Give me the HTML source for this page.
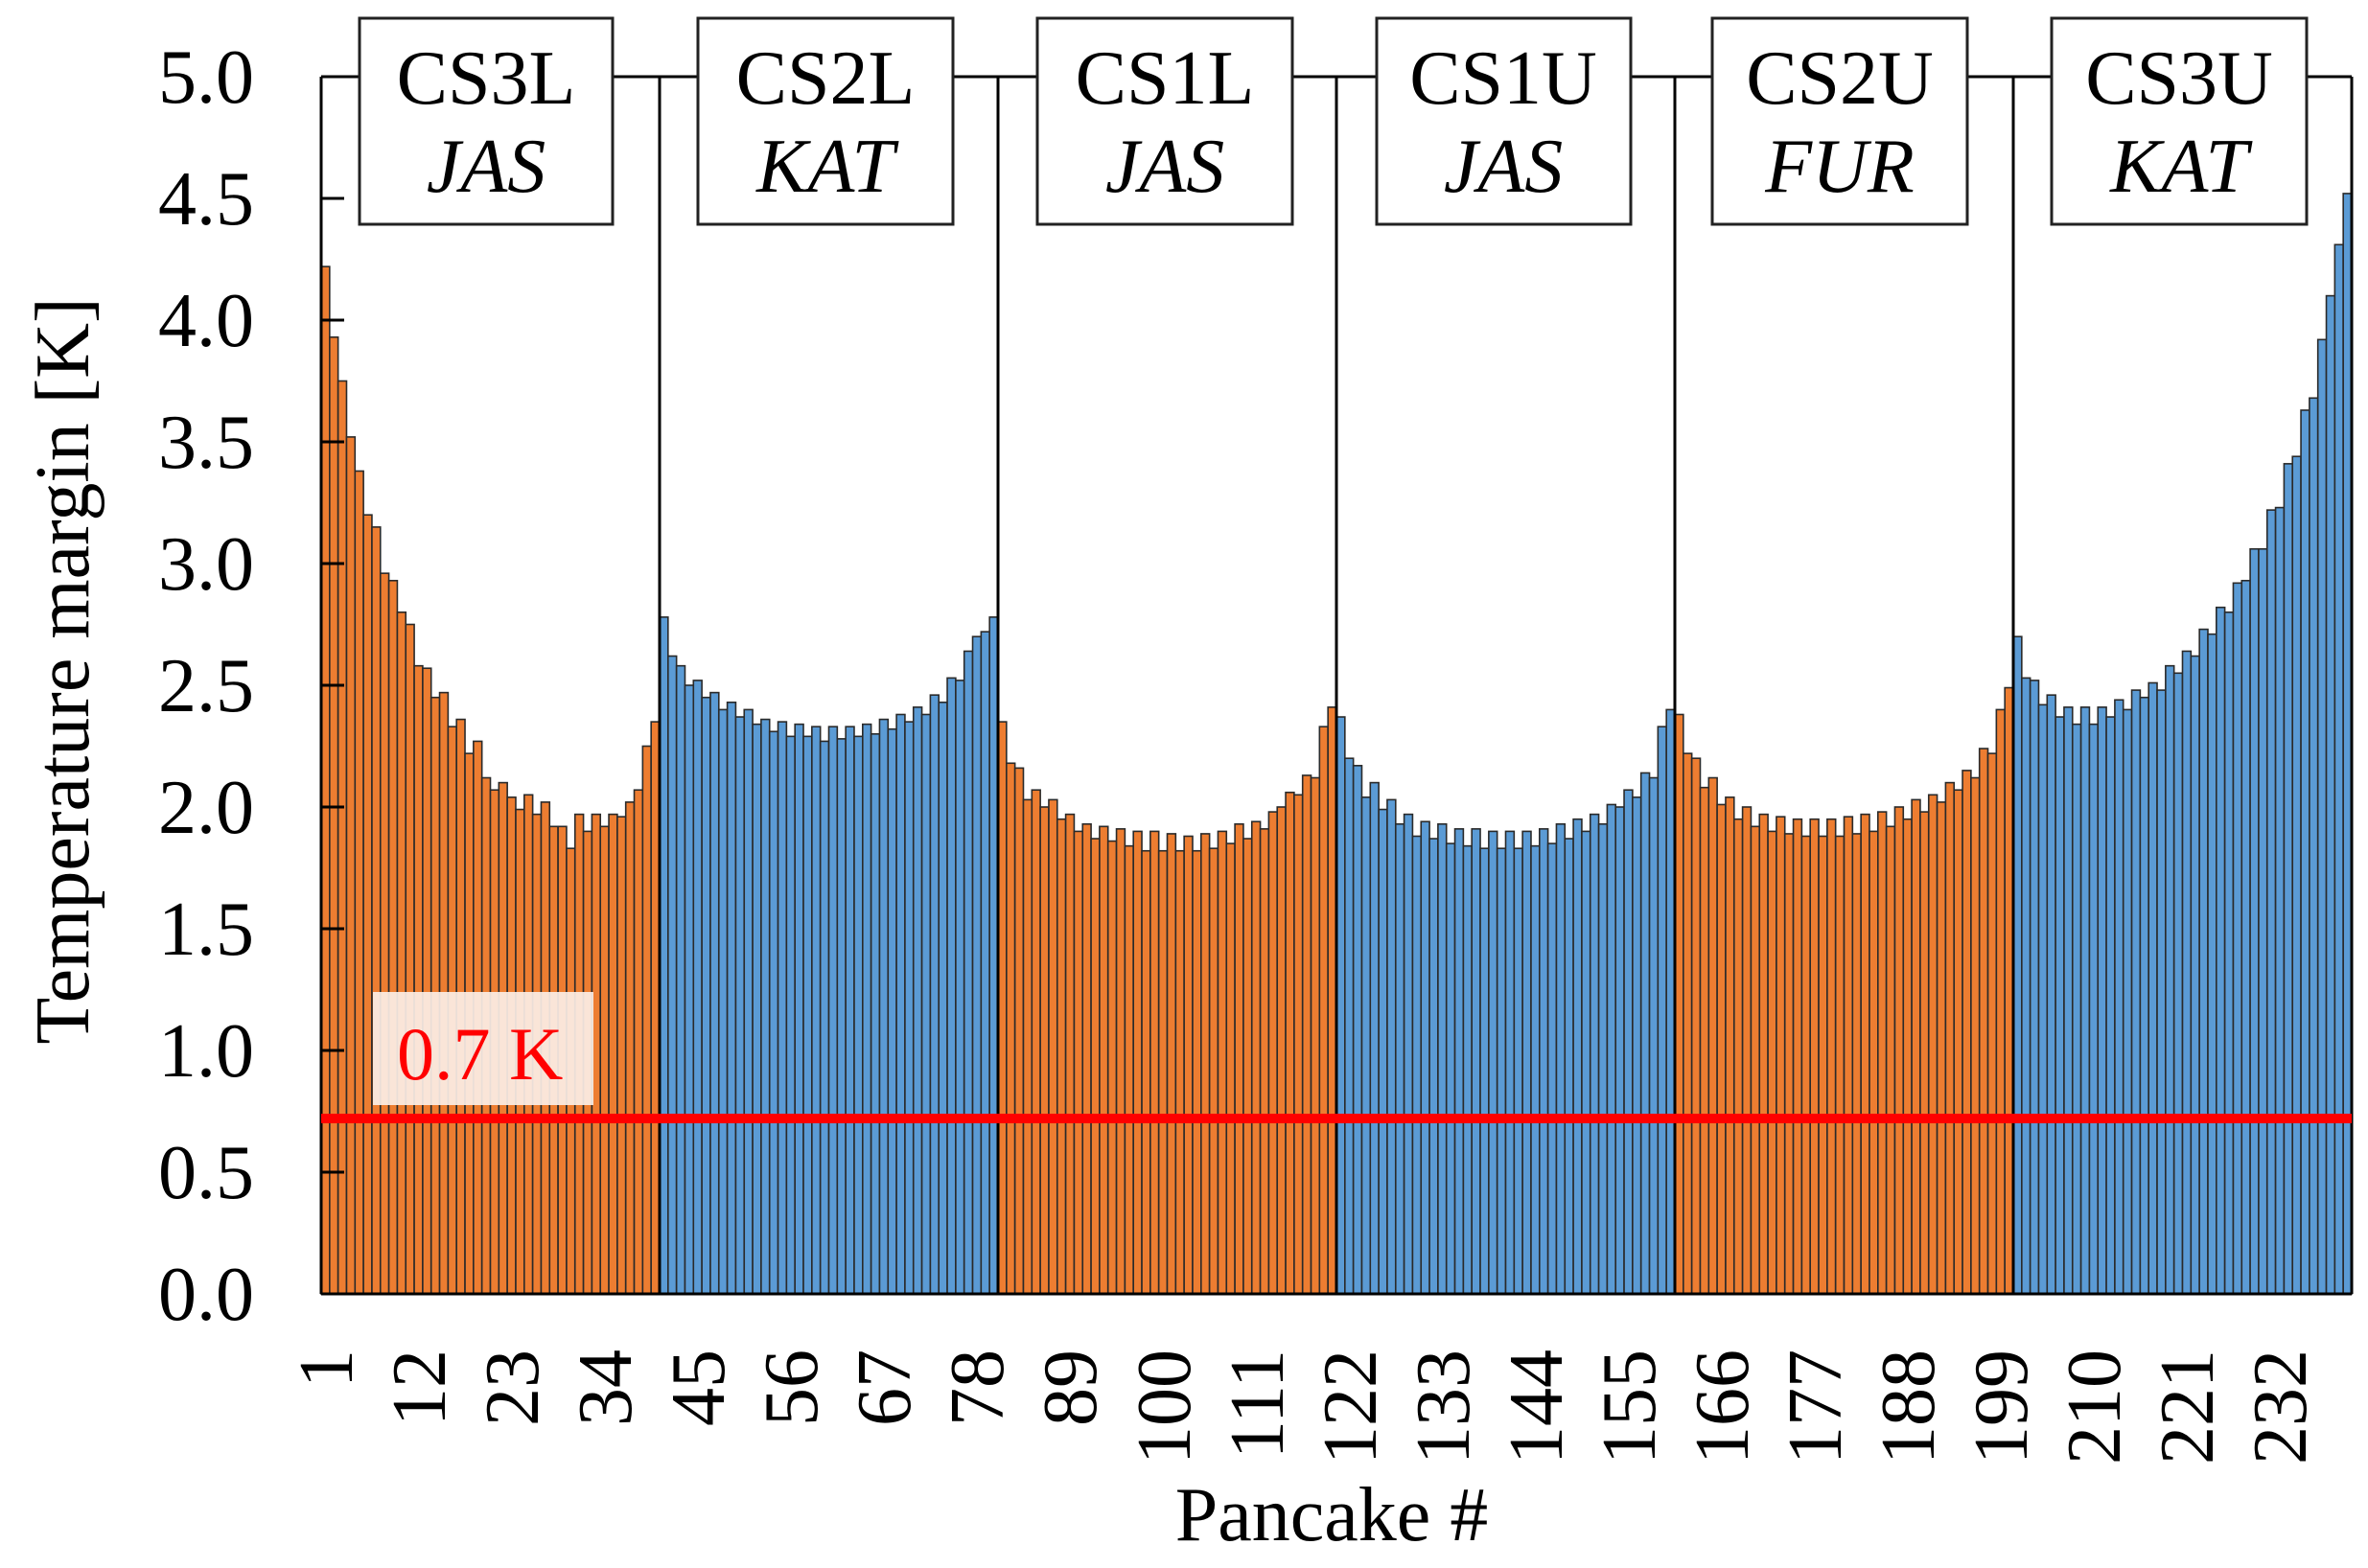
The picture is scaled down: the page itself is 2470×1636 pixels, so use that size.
<!DOCTYPE html>
<html><head><meta charset="utf-8"><style>
html,body{margin:0;padding:0;background:#fff;}
svg{display:block;}
text{font-family:"Liberation Serif",serif;fill:#000;}
</style></head><body>
<svg id="s" width="2470" height="1636" viewBox="0 0 2470 1636" xmlns="http://www.w3.org/2000/svg">
<g id="bars"></g>
<g id="frame" stroke="#000" stroke-width="3" fill="none"></g>
<!-- boxes -->
<g stroke="#222" stroke-width="3" fill="#fff">
<rect x="375" y="19" width="264" height="215"/>
<rect x="728" y="19" width="266" height="215"/>
<rect x="1082" y="19" width="266" height="215"/>
<rect x="1436" y="19" width="265" height="215"/>
<rect x="1786" y="19" width="266" height="215"/>
<rect x="2140" y="19" width="266" height="215"/>
</g>
<g font-size="80" text-anchor="middle">
<text x="507" y="108">CS3L</text><text x="507" y="200" font-style="italic">JAS</text>
<text x="861" y="108">CS2L</text><text x="861" y="200" font-style="italic">KAT</text>
<text x="1215" y="108">CS1L</text><text x="1215" y="200" font-style="italic">JAS</text>
<text x="1568" y="108">CS1U</text><text x="1568" y="200" font-style="italic">JAS</text>
<text x="1919" y="108">CS2U</text><text x="1919" y="200" font-style="italic">FUR</text>
<text x="2273" y="108">CS3U</text><text x="2273" y="200" font-style="italic">KAT</text>
</g>
<!-- red line + label -->
<rect x="335" y="1162" width="2118" height="10" fill="#ff0000"/>
<rect x="389" y="1035" width="230" height="118" fill="#fbeee6" fill-opacity="0.92"/>
<text x="414" y="1126" font-size="78" fill="#ff0000" style="fill:#ff0000">0.7 K</text>
<!-- y labels -->
<g font-size="80" text-anchor="end">
<text x="265" y="1377">0.0</text>
<text x="265" y="1250">0.5</text>
<text x="265" y="1123">1.0</text>
<text x="265" y="996">1.5</text>
<text x="265" y="869">2.0</text>
<text x="265" y="742">2.5</text>
<text x="265" y="615">3.0</text>
<text x="265" y="488">3.5</text>
<text x="265" y="361">4.0</text>
<text x="265" y="234">4.5</text>
<text x="265" y="107">5.0</text>
</g>
<g id="yt" stroke="#000" stroke-width="3"></g>
<text transform="translate(92,700) rotate(-90)" font-size="80" text-anchor="middle">Temperature margin [K]</text>
<text x="1389" y="1607" font-size="80" text-anchor="middle">Pancake #</text>
<g font-size="80" text-anchor="end">
<text transform="translate(367,1408) rotate(-90)">1</text>
<text transform="translate(464,1408) rotate(-90)">12</text>
<text transform="translate(561,1408) rotate(-90)">23</text>
<text transform="translate(658,1408) rotate(-90)">34</text>
<text transform="translate(755,1408) rotate(-90)">45</text>
<text transform="translate(852,1408) rotate(-90)">56</text>
<text transform="translate(949,1408) rotate(-90)">67</text>
<text transform="translate(1046,1408) rotate(-90)">78</text>
<text transform="translate(1143,1408) rotate(-90)">89</text>
<text transform="translate(1241,1408) rotate(-90)">100</text>
<text transform="translate(1338,1408) rotate(-90)">111</text>
<text transform="translate(1435,1408) rotate(-90)">122</text>
<text transform="translate(1532,1408) rotate(-90)">133</text>
<text transform="translate(1629,1408) rotate(-90)">144</text>
<text transform="translate(1726,1408) rotate(-90)">155</text>
<text transform="translate(1823,1408) rotate(-90)">166</text>
<text transform="translate(1920,1408) rotate(-90)">177</text>
<text transform="translate(2017,1408) rotate(-90)">188</text>
<text transform="translate(2114,1408) rotate(-90)">199</text>
<text transform="translate(2211,1408) rotate(-90)">210</text>
<text transform="translate(2308,1408) rotate(-90)">221</text>
<text transform="translate(2405,1408) rotate(-90)">232</text>
</g>
</svg>
<script>
var d=[4.22,3.93,3.75,3.52,3.38,3.2,3.15,2.96,2.93,2.8,2.75,2.58,2.57,2.45,2.47,2.33,2.36,2.22,2.27,2.12,2.07,2.1,2.04,1.99,2.05,1.97,2.02,1.92,1.92,1.83,1.97,1.9,1.97,1.92,1.97,1.96,2.02,2.07,2.25,2.35,
2.78,2.62,2.58,2.5,2.52,2.45,2.47,2.4,2.43,2.37,2.4,2.34,2.36,2.31,2.35,2.29,2.34,2.29,2.33,2.27,2.33,2.28,2.33,2.29,2.34,2.3,2.36,2.32,2.38,2.35,2.41,2.38,2.46,2.43,2.53,2.52,2.64,2.7,2.72,2.78,
2.35,2.18,2.16,2.03,2.07,2.0,2.03,1.95,1.97,1.9,1.93,1.87,1.92,1.86,1.91,1.84,1.9,1.82,1.9,1.82,1.89,1.82,1.88,1.82,1.89,1.83,1.9,1.85,1.93,1.87,1.94,1.91,1.98,2.0,2.06,2.05,2.13,2.12,2.33,2.41,
2.37,2.2,2.17,2.04,2.1,1.99,2.03,1.93,1.97,1.88,1.94,1.87,1.93,1.85,1.91,1.84,1.91,1.83,1.9,1.83,1.9,1.83,1.9,1.84,1.91,1.85,1.93,1.87,1.95,1.9,1.97,1.93,2.01,2.0,2.07,2.04,2.14,2.12,2.33,2.4,
2.38,2.22,2.2,2.08,2.12,2.01,2.04,1.95,2.0,1.92,1.97,1.9,1.96,1.89,1.95,1.88,1.95,1.88,1.95,1.88,1.96,1.89,1.97,1.9,1.98,1.92,2.0,1.95,2.03,1.98,2.05,2.02,2.1,2.07,2.15,2.12,2.24,2.22,2.4,2.49,
2.7,2.53,2.52,2.42,2.46,2.37,2.41,2.34,2.41,2.34,2.41,2.37,2.44,2.4,2.48,2.45,2.51,2.48,2.58,2.55,2.64,2.62,2.73,2.71,2.82,2.8,2.92,2.93,3.06,3.06,3.22,3.23,3.41,3.44,3.63,3.68,3.92,4.1,4.31,4.52];
var NS="http://www.w3.org/2000/svg",x0=335,bw=2118/240,y0=1350,k=254;
function el(t,a,p){var e=document.createElementNS(NS,t);for(var i in a)e.setAttribute(i,a[i]);p.appendChild(e);return e;}
var g=document.getElementById('bars'),f=document.getElementById('frame'),yt=document.getElementById('yt');
// frame lines
el('line',{x1:x0,y1:80,x2:2453,y2:80},f);
for(var s=0;s<=6;s++){var xx=x0+s*40*bw;el('line',{x1:xx,y1:80,x2:xx,y2:1350},f);}
el('line',{x1:x0,y1:1350,x2:2453,y2:1350},f);
for(var i=0;i<240;i++){var seg=Math.floor(i/40);var h=d[i]*k;
el('rect',{x:x0+i*bw,y:y0-h,width:bw,height:h,fill:seg%2?'#5b9bd5':'#ed7d31',stroke:'#2a2a2a','stroke-width':1.6},g);}
for(var v=0;v<=10;v++){var yy=y0-v*127;el('line',{x1:x0,y1:yy,x2:x0+24,y2:yy},yt);}
</script>
</body></html>
